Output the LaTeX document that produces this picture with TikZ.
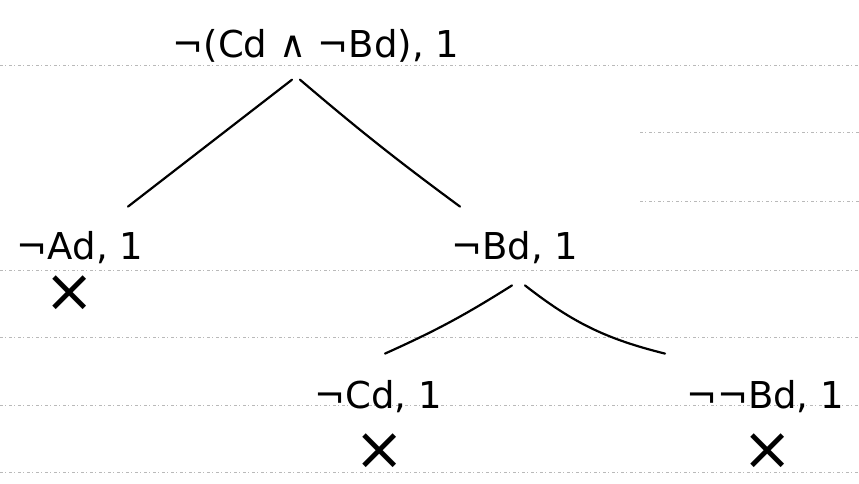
\documentclass[tikz,border=0pt]{standalone}
\usepackage{fontspec}
\setmainfont{DejaVu Sans}
\begin{document}
\begin{tikzpicture}[x=1pt,y=-1pt,
  lbl/.style={inner sep=0pt,font=\fontsize{37}{40}\selectfont},
  cross/.style={inner sep=0pt,font=\fontsize{60}{62}\selectfont},
  edge/.style={line width=2.2pt,line cap=round},
  rule/.style={gray!55,line width=0.6pt,dash pattern=on 3pt off 2pt on 1pt off 3pt}]
\useasboundingbox (0,0) rectangle (859,483);
% ruled paper lines
\foreach \yy in {65,270,337,405,472}{\draw[rule] (0,\yy) -- (859,\yy);}
\foreach \yy in {132,201}{\draw[rule] (640,\yy) -- (859,\yy);}
% nodes
\node[lbl] (top) at (316,46) {¬(Cd ∧ ¬Bd), 1};
\node[lbl] (ad) at (80,248) {¬Ad, 1};
\node[cross] (xa) at (70,294) {×};
\node[lbl] (bd) at (515,248) {¬Bd, 1};
\node[lbl] (cd) at (378,397) {¬Cd, 1};
\node[cross] (xc) at (380,452) {×};
\node[lbl] (nbd) at (765,397) {¬¬Bd, 1};
\node[cross] (xn) at (768,452) {×};
% connectors
\draw[edge] ([xshift=-24pt,yshift=-17pt]top.south) -- ([xshift=48pt,yshift=25pt]ad.north);
\draw[edge] ([xshift=-16pt,yshift=-17pt]top.south) to[bend right=2] ([xshift=-55pt,yshift=25pt]bd.north);
\draw[edge] ([xshift=-3pt,yshift=-21pt]bd.south) to[bend left=4] ([xshift=7pt,yshift=27pt]cd.north);
\draw[edge] ([xshift=10pt,yshift=-21pt]bd.south) to[bend right=12] ([xshift=-100pt,yshift=27pt]nbd.north);
\end{tikzpicture}
\end{document}
